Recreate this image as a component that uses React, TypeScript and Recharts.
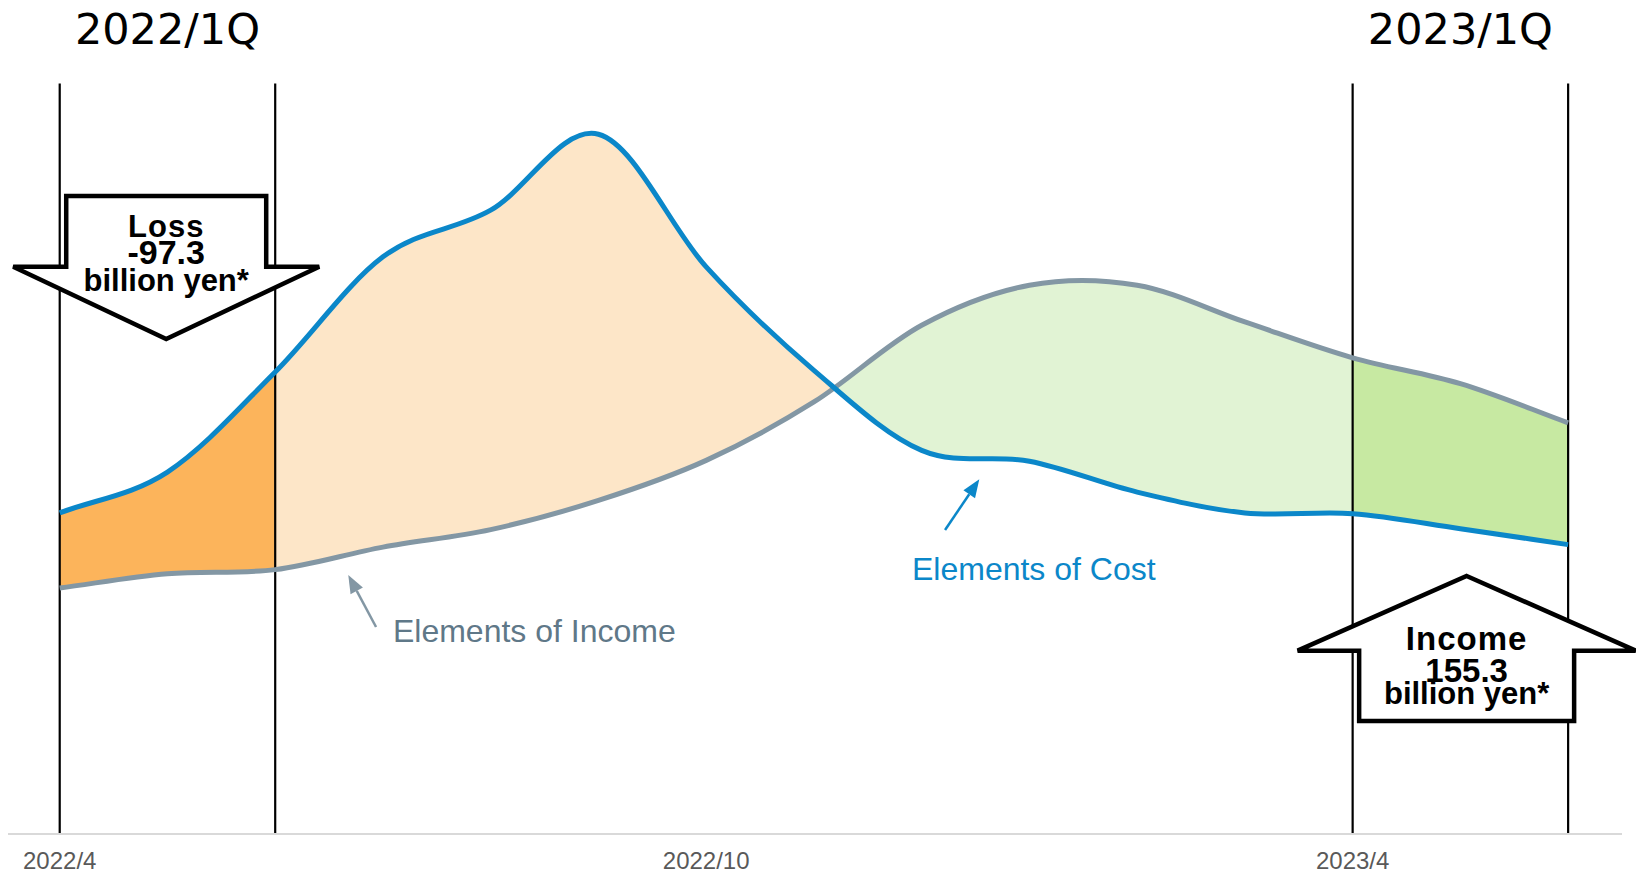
import {
  Area,
  ComposedChart,
  Line,
  ReferenceArea,
  ReferenceDot,
  ReferenceLine,
  XAxis,
  YAxis,
} from 'recharts'

// months on the x axis (2022/4 .. 2023/6)
const months = [
  '2022/4', '2022/5', '2022/6', '2022/7', '2022/8', '2022/9', '2022/10', '2022/11',
  '2022/12', '2023/1', '2023/2', '2023/3', '2023/4', '2023/5', '2023/6',
]
const tickMonths = ['2022/4', '2022/10', '2023/4']

// relative levels (0..100 scale)
const costValues = [38.5, 43.4, 55.4, 69.2, 74.8, 83.9, 68.0, 55.6, 46.0, 44.7, 41.0, 38.5, 38.4, 36.6, 34.7]
const incomeValues = [29.5, 31.2, 31.7, 34.4, 36.5, 40.0, 44.8, 51.8, 61.0, 65.8, 65.8, 61.4, 57.1, 54.0, 49.3]

const quarterNames = ['2022/1Q', '2023/1Q']
const quarterFrom = ['2022/4', '2023/4']
const quarterTo = ['2022/6', '2023/6']

const resultTitles = ['Loss', 'Income']
const resultAmounts = ['-97.3', '155.3']

const W = 1636
const H = 873
const BLUE = '#0b87c9'
const GRAY = '#8397a4'
const GRAY_TEXT = '#5f7888'
const SANS = '"Liberation Sans", Arial, sans-serif'

const data = months.map((m, i) => ({
  idx: i,
  month: m,
  cost: costValues[i],
  income: incomeValues[i],
  band: [incomeValues[i], costValues[i]],
}))

const last = months.length - 1
const mi = (m: string) => months.indexOf(m)

// where cost drops below income (linear estimate between months)
function crossAt(): number {
  for (let i = 0; i < last; i++) {
    const a = costValues[i] - incomeValues[i]
    const b = costValues[i + 1] - incomeValues[i + 1]
    if (a > 0 && b <= 0) return i + a / (a - b)
  }
  return last
}

const q1End = mi(quarterTo[0]) / last
const cross = crossAt() / last
const q2Start = mi(quarterFrom[1]) / last

// catmull-rom curve (d3 curve protocol) so peaks between months stay round
function smooth(context: any) {
  let xs: number[] = []
  let ys: number[] = []
  let state = NaN
  return {
    areaStart() { state = 0 },
    areaEnd() { state = NaN },
    lineStart() { xs = []; ys = [] },
    point(x: number, y: number) { xs.push(+x); ys.push(+y) },
    lineEnd() {
      const n = xs.length
      if (n) {
        if (state) context.lineTo(xs[0], ys[0])
        else context.moveTo(xs[0], ys[0])
        const X = (i: number) => (i < 0 ? 2 * xs[0] - xs[1] : i >= n ? 2 * xs[n - 1] - xs[n - 2] : xs[i])
        const Y = (i: number) => (i < 0 ? 2 * ys[0] - ys[1] : i >= n ? 2 * ys[n - 1] - ys[n - 2] : ys[i])
        for (let i = 0; i < n - 1; i++) {
          context.bezierCurveTo(
            xs[i] + (X(i + 1) - X(i - 1)) / 6,
            ys[i] + (Y(i + 1) - Y(i - 1)) / 6,
            xs[i + 1] - (X(i + 2) - X(i)) / 6,
            ys[i + 1] - (Y(i + 2) - Y(i)) / 6,
            xs[i + 1],
            ys[i + 1],
          )
        }
      }
      if (state || (state !== 0 && n === 1)) context.closePath()
      state = 1 - state
    },
  }
}

function QuarterFrame(props: any) {
  const { x, y, width, height, name } = props
  return (
    <g>
      <line x1={x} y1={y} x2={x} y2={y + height} stroke="#000" strokeWidth={2.2} />
      <line x1={x + width} y1={y} x2={x + width} y2={y + height} stroke="#000" strokeWidth={2.2} />
      <text
        x={x + width / 2}
        y={y - 39}
        textAnchor="middle"
        fontFamily='"DejaVu Sans", Verdana, sans-serif'
        fontSize={43}
        fill="#000"
      >
        {name}
      </text>
    </g>
  )
}

function LossArrow(props: any) {
  const { x, y, width, height } = props
  const l = x + 6.5
  const r = x + width - 9
  const cx = (l + r) / 2
  const wing = y + 70.7
  const half = 153
  const pts = [
    [l, y], [r, y], [r, wing], [cx + half, wing], [cx, y + height], [cx - half, wing], [l, wing],
  ]
  return (
    <g>
      <polygon
        points={pts.map((p) => p.join(',')).join(' ')}
        fill="#fff"
        stroke="#000"
        strokeWidth={4.5}
        strokeLinejoin="miter"
      />
      <text textAnchor="middle" fontFamily={SANS} fontWeight="bold" fill="#000">
        <tspan x={cx} y={y + 41.3} fontSize={31} letterSpacing={1}>{resultTitles[0]}</tspan>
        <tspan x={cx} y={y + 68} fontSize={34}>{resultAmounts[0]}</tspan>
        <tspan x={cx} y={y + 95.5} fontSize={31}>billion yen*</tspan>
      </text>
    </g>
  )
}

function IncomeArrow(props: any) {
  const { x, y, width, height } = props
  const l = x + 6.5
  const r = x + width + 6
  const cx = (l + r) / 2
  const wing = y + 74.7
  const half = 169
  const pts = [
    [cx, y], [cx + half, wing], [r, wing], [r, y + height], [l, y + height], [l, wing], [cx - half, wing],
  ]
  return (
    <g>
      <polygon
        points={pts.map((p) => p.join(',')).join(' ')}
        fill="#fff"
        stroke="#000"
        strokeWidth={4.5}
        strokeLinejoin="miter"
      />
      <text textAnchor="middle" fontFamily={SANS} fontWeight="bold" fill="#000">
        <tspan x={cx} y={y + 74} fontSize={33} letterSpacing={1}>{resultTitles[1]}</tspan>
        <tspan x={cx} y={y + 105.7} fontSize={33}>{resultAmounts[1]}</tspan>
        <tspan x={cx} y={y + 128.5} fontSize={31}>billion yen*</tspan>
      </text>
    </g>
  )
}

function Pointer(props: any) {
  const { x1, y1, x2, y2, stroke } = props
  const ang = Math.atan2(y2 - y1, x2 - x1)
  const len = 18
  const half = 7
  const bx = x2 - len * Math.cos(ang)
  const by = y2 - len * Math.sin(ang)
  const px = -Math.sin(ang) * half
  const py = Math.cos(ang) * half
  return (
    <g>
      <line x1={x1} y1={y1} x2={bx} y2={by} stroke={stroke} strokeWidth={2.5} />
      <polygon points={`${x2},${y2} ${bx + px},${by + py} ${bx - px},${by - py}`} fill={stroke} />
    </g>
  )
}

function note(text: string, color: string) {
  return (props: any) => (
    <text x={props.cx} y={props.cy} fontFamily={SANS} fontSize={32} fill={color}>
      {text}
    </text>
  )
}

export default function App() {
  return (
    <div style={{ position: 'absolute', left: 0, top: 0, width: W, height: H, background: '#fff' }}>
      <ComposedChart width={W} height={H} data={data} margin={{ top: 0, right: 14, left: 8, bottom: 0 }}>
        <defs>
          <linearGradient id="bandFill" x1="0" y1="0" x2="1" y2="0">
            <stop offset={0} stopColor="#fcb45b" />
            <stop offset={q1End} stopColor="#fcb45b" />
            <stop offset={q1End} stopColor="#fde6c8" />
            <stop offset={cross} stopColor="#fde6c8" />
            <stop offset={cross} stopColor="#e1f3d4" />
            <stop offset={q2Start} stopColor="#e1f3d4" />
            <stop offset={q2Start} stopColor="#c7e9a2" />
            <stop offset={1} stopColor="#c7e9a2" />
          </linearGradient>
        </defs>
        <XAxis
          dataKey="idx"
          type="number"
          domain={[-0.48, 14.5]}
          ticks={tickMonths.map(mi)}
          tickFormatter={(v) => months[v]}
          axisLine={{ stroke: '#d9d9d9', strokeWidth: 2 }}
          tickLine={false}
          tickMargin={12}
          height={39}
          tick={{ fill: '#595959', fontSize: 24, fontFamily: SANS }}
        />
        <YAxis type="number" domain={[0, 100]} hide />
        <Area
          dataKey="band"
          type={smooth as any}
          stroke="none"
          fill="url(#bandFill)"
          fillOpacity={1}
          dot={false}
          activeDot={false}
          isAnimationActive={false}
        />
        {quarterNames.map((q, i) => (
          <ReferenceArea
            key={q}
            x1={mi(quarterFrom[i])}
            x2={mi(quarterTo[i])}
            y1={0}
            y2={90}
            zIndex={300}
            shape={(p: any) => <QuarterFrame {...p} name={q} />}
          />
        ))}
        <Line dataKey="income" type={smooth as any} stroke={GRAY} strokeWidth={5} dot={false} activeDot={false} isAnimationActive={false} />
        <Line dataKey="cost" type={smooth as any} stroke={BLUE} strokeWidth={5} dot={false} activeDot={false} isAnimationActive={false} />
        <ReferenceArea x1={0} x2={2} y1={59.35} y2={76.5} zIndex={1500} shape={LossArrow} />
        <ReferenceArea x1={12} x2={14} y1={13.55} y2={30.94} zIndex={1500} shape={IncomeArrow} />
        <ReferenceLine
          segment={[{ x: 2.936, y: 24.82 }, { x: 2.678, y: 31.06 }]}
          stroke={GRAY}
          zIndex={1500}
          shape={Pointer}
        />
        <ReferenceLine
          segment={[{ x: 8.217, y: 36.45 }, { x: 8.535, y: 42.53 }]}
          stroke={BLUE}
          zIndex={1500}
          shape={Pointer}
        />
        <ReferenceDot x={3.093} y={23.06} zIndex={1600} shape={note('Elements of Income', GRAY_TEXT)} />
        <ReferenceDot x={7.91} y={30.46} zIndex={1600} shape={note('Elements of Cost', BLUE)} />
      </ComposedChart>
    </div>
  )
}
